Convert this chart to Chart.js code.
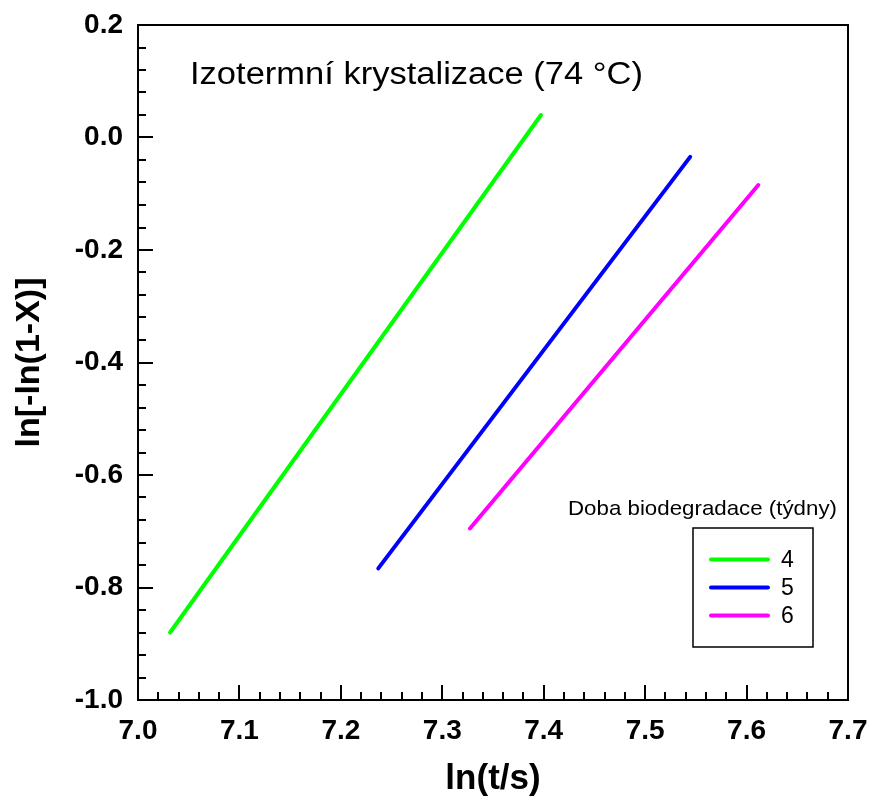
<!DOCTYPE html>
<html>
<head>
<meta charset="utf-8">
<script src="https://cdn.jsdelivr.net/npm/chart.js@4/dist/chart.umd.min.js"></script>
<style>
  html, body { margin: 0; padding: 0; background: #fff; }
  #wrap { width: 872px; height: 801px; }
</style>
</head>
<body>
<div id="wrap"><canvas id="c" width="872" height="801"></canvas></div>
<script>
// ---- data ----
const seriesLabels = ["4", "5", "6"];
const seriesColors = ["#00ff00", "#0000ff", "#ff00ff"];
const series4X = [7.0316, 7.3973];
const series4Y = [-0.880, 0.040];
const series5X = [7.2369, 7.5444];
const series5Y = [-0.766, -0.0345];
const series6X = [7.3273, 7.6116];
const series6Y = [-0.695, -0.0845];
const xTickLabels = ["7.0", "7.1", "7.2", "7.3", "7.4", "7.5", "7.6", "7.7"];
const yTickLabels = ["-1.0", "-0.8", "-0.6", "-0.4", "-0.2", "0.0", "0.2"];
const xTitle = "ln(t/s)";
const yTitle = "ln[-ln(1-X)]";
const plotTitle = "Izotermní krystalizace (74 °C)";
const legendTitle = "Doba biodegradace (týdny)";

const FONT = "'Liberation Sans', Arial, Helvetica, sans-serif";

function pts(xs, ys) { return xs.map((x, i) => ({x: x, y: ys[i]})); }
const allX = [series4X, series5X, series6X];
const allY = [series4Y, series5Y, series6Y];

const datasets = seriesLabels.map((lab, i) => ({
  label: lab,
  data: pts(allX[i], allY[i]),
  borderColor: seriesColors[i],
  backgroundColor: seriesColors[i],
  borderWidth: 4,
  borderCapStyle: 'round',
  pointRadius: 0,
  showLine: true,
  fill: false,
  tension: 0
}));

const decor = {
  id: 'decor',
  afterDraw(chart) {
    const ctx = chart.ctx;
    const a = chart.chartArea;
    const xs = chart.scales.x, ys = chart.scales.y;
    ctx.save();
    // frame
    ctx.strokeStyle = '#000';
    ctx.lineWidth = 2;
    ctx.strokeRect(a.left, a.top, a.right - a.left, a.bottom - a.top);
    // x ticks (inward)
    ctx.beginPath();
    for (let k = 0; k <= 35; k++) {
      const v = 7.0 + k * 0.02;
      const px = Math.round(xs.getPixelForValue(v));
      const len = (k % 5 === 0) ? 15 : 8;
      ctx.moveTo(px, a.bottom);
      ctx.lineTo(px, a.bottom - len);
    }
    // y ticks (inward)
    for (let k = 0; k <= 30; k++) {
      const v = -1.0 + k * 0.04;
      const py = Math.round(ys.getPixelForValue(v));
      const len = (k % 5 === 0) ? 15 : 8;
      ctx.moveTo(a.left, py);
      ctx.lineTo(a.left + len, py);
    }
    ctx.stroke();

    // plot title annotation (slightly wide face as in the reference)
    ctx.fillStyle = '#000';
    ctx.font = "31px " + FONT;
    ctx.textAlign = 'left';
    ctx.textBaseline = 'middle';
    const tw = ctx.measureText(plotTitle).width;
    ctx.save();
    ctx.translate(a.left + 52, a.top + 50);
    ctx.scale(453 / tw, 1);
    ctx.fillText(plotTitle, 0, 0);
    ctx.restore();

    // legend title
    ctx.font = "21px " + FONT;
    ctx.textAlign = 'right';
    const lw = ctx.measureText(legendTitle).width;
    ctx.save();
    ctx.translate(a.right - 11, a.top + 484);
    ctx.scale(269 / lw, 1);
    ctx.fillText(legendTitle, 0, 0);
    ctx.restore();

    // legend box
    const bx = a.left + 555, by = a.top + 503, bw = 120, bh = 119;
    ctx.lineWidth = 1.5;
    ctx.strokeStyle = '#000';
    ctx.strokeRect(bx, by, bw, bh);
    ctx.font = "23px " + FONT;
    ctx.textAlign = 'left';
    chart.data.datasets.forEach((ds, i) => {
      const y = by + 31.5 + i * 28;
      ctx.strokeStyle = ds.borderColor;
      ctx.lineWidth = 4;
      ctx.lineCap = 'round';
      ctx.beginPath();
      ctx.moveTo(bx + 18, y);
      ctx.lineTo(bx + 75, y);
      ctx.stroke();
      ctx.fillStyle = '#000';
      ctx.fillText(ds.label, bx + 88, y + 1);
    });
    ctx.restore();
  }
};

new Chart(document.getElementById('c'), {
  type: 'scatter',
  data: { datasets: datasets },
  options: {
    responsive: false,
    animation: false,
    devicePixelRatio: 1,
    layout: { padding: { top: 25, right: 24, left: 0, bottom: 0 } },
    plugins: { legend: { display: false }, tooltip: { enabled: false }, title: { display: false } },
    scales: {
      x: {
        type: 'linear',
        min: 7.0, max: 7.7,
        afterFit(s) { s.height = 101; s.paddingLeft = 0; s.paddingRight = 0; },
        afterBuildTicks(s) { s.ticks = xTickLabels.map(t => ({ value: parseFloat(t) })); },
        grid: { display: false, drawTicks: false },
        border: { display: false },
        ticks: {
          padding: 14,
          color: '#000',
          font: { family: FONT, size: 28, weight: 'bold' },
          callback: (v, i) => xTickLabels[i],
          maxRotation: 0, autoSkip: false
        },
        title: {
          display: true, text: xTitle, color: '#000',
          font: { family: FONT, size: 35, weight: 'bold' },
          padding: { top: 0, bottom: 1 }
        }
      },
      y: {
        type: 'linear',
        min: -1.0, max: 0.2,
        afterFit(s) { s.width = 138; s.paddingTop = 0; s.paddingBottom = 0; },
        afterBuildTicks(s) { s.ticks = yTickLabels.map(t => ({ value: parseFloat(t) })); },
        grid: { display: false, drawTicks: false },
        border: { display: false },
        ticks: {
          padding: 15,
          color: '#000',
          font: { family: FONT, size: 28, weight: 'bold' },
          callback: (v, i) => yTickLabels[i],
          autoSkip: false
        },
        title: {
          display: true, text: yTitle, color: '#000',
          font: { family: FONT, size: 34, weight: 'bold' },
          padding: { top: 9, bottom: 0 }
        }
      }
    }
  },
  plugins: [decor]
});
</script>
</body>
</html>
